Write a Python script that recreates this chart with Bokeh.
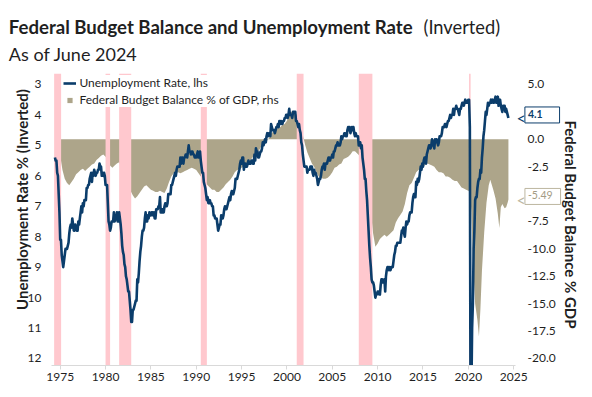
import math
from bokeh.plotting import figure
from bokeh.models import (Range1d, LinearAxis, FixedTicker, NumeralTickFormatter, Label,
                          Legend, LegendItem)
from bokeh.embed import file_html
from bokeh.resources import INLINE

# ---------------- data ----------------
unemp_1970s = [5.4, 5.5, 5.5, 5.9, 6.0, 6.6, 7.2,
               8.1, 8.1, 8.6, 8.8, 9.0, 8.8, 8.6, 8.4, 8.4, 8.4, 8.3, 8.2,
               7.9, 7.7, 7.6, 7.7, 7.4, 7.6, 7.8, 7.8, 7.6, 7.7, 7.8, 7.8,
               7.5, 7.6, 7.4, 7.2, 7.0, 7.2, 6.9, 7.0, 6.8, 6.8, 6.8, 6.4,
               6.4, 6.3, 6.3, 6.1, 6.0, 5.9, 6.2, 5.9, 6.0, 5.8, 5.9, 6.0,
               5.9, 5.9, 5.8, 5.8, 5.6, 5.7, 5.7, 6.0, 5.9, 6.0, 5.9, 6.0]
unemp_1980s = [6.3, 6.3, 6.3, 6.9, 7.5, 7.6, 7.8, 7.7, 7.5, 7.5, 7.5, 7.2,
               7.5, 7.4, 7.4, 7.2, 7.5, 7.5, 7.2, 7.4, 7.6, 7.9, 8.3, 8.5,
               8.6, 8.9, 9.0, 9.3, 9.4, 9.6, 9.8, 9.8, 10.1, 10.4, 10.8, 10.8,
               10.4, 10.4, 10.3, 10.2, 10.1, 10.1, 9.4, 9.5, 9.2, 8.8, 8.5, 8.3,
               8.0, 7.8, 7.8, 7.7, 7.4, 7.2, 7.5, 7.5, 7.3, 7.4, 7.2, 7.3,
               7.3, 7.2, 7.2, 7.3, 7.2, 7.4, 7.4, 7.1, 7.1, 7.1, 7.0, 7.0,
               6.7, 7.2, 7.2, 7.1, 7.2, 7.2, 7.0, 6.9, 7.0, 7.0, 6.9, 6.6,
               6.6, 6.6, 6.6, 6.3, 6.3, 6.2, 6.1, 6.0, 5.9, 6.0, 5.8, 5.7,
               5.7, 5.7, 5.7, 5.4, 5.6, 5.4, 5.4, 5.6, 5.4, 5.4, 5.3, 5.3,
               5.4, 5.2, 5.0, 5.2, 5.2, 5.3, 5.2, 5.2, 5.3, 5.3, 5.4, 5.4]
unemp_1990s = [5.4, 5.3, 5.2, 5.4, 5.4, 5.2, 5.5, 5.7, 5.9, 5.9, 6.2, 6.3,
               6.4, 6.6, 6.8, 6.7, 6.9, 6.9, 6.8, 6.9, 6.9, 7.0, 7.0, 7.3,
               7.3, 7.4, 7.4, 7.4, 7.6, 7.8, 7.7, 7.6, 7.6, 7.3, 7.4, 7.4,
               7.3, 7.1, 7.0, 7.1, 7.1, 7.0, 6.9, 6.8, 6.7, 6.8, 6.6, 6.5,
               6.6, 6.6, 6.5, 6.4, 6.1, 6.1, 6.1, 6.0, 5.9, 5.8, 5.6, 5.5,
               5.6, 5.4, 5.4, 5.8, 5.6, 5.6, 5.7, 5.7, 5.6, 5.5, 5.6, 5.6,
               5.6, 5.5, 5.5, 5.6, 5.6, 5.3, 5.5, 5.1, 5.2, 5.2, 5.4, 5.4,
               5.3, 5.2, 5.2, 5.1, 4.9, 5.0, 4.9, 4.8, 4.9, 4.7, 4.6, 4.7,
               4.6, 4.6, 4.7, 4.3, 4.4, 4.5, 4.5, 4.5, 4.6, 4.5, 4.4, 4.4,
               4.3, 4.4, 4.2, 4.3, 4.2, 4.3, 4.3, 4.2, 4.2, 4.1, 4.1, 4.0]
unemp_2000s = [4.0, 4.1, 4.0, 3.8, 4.0, 4.0, 4.0, 4.1, 3.9, 3.9, 3.9, 3.9,
               4.2, 4.2, 4.3, 4.4, 4.3, 4.5, 4.6, 4.9, 5.0, 5.3, 5.5, 5.7,
               5.7, 5.7, 5.7, 5.9, 5.8, 5.8, 5.8, 5.7, 5.7, 5.7, 5.9, 6.0,
               5.8, 5.9, 5.9, 6.0, 6.1, 6.3, 6.2, 6.1, 6.1, 6.0, 5.8, 5.7,
               5.7, 5.6, 5.8, 5.6, 5.6, 5.6, 5.5, 5.4, 5.4, 5.5, 5.4, 5.4,
               5.3, 5.4, 5.2, 5.2, 5.1, 5.0, 5.0, 4.9, 5.0, 5.0, 5.0, 4.9,
               4.7, 4.8, 4.7, 4.7, 4.6, 4.6, 4.7, 4.7, 4.5, 4.4, 4.5, 4.4,
               4.6, 4.5, 4.4, 4.5, 4.4, 4.6, 4.7, 4.6, 4.7, 4.7, 4.7, 5.0,
               5.0, 4.9, 5.1, 5.0, 5.4, 5.6, 5.8, 6.1, 6.1, 6.5, 6.8, 7.3,
               7.8, 8.3, 8.7, 9.0, 9.4, 9.5, 9.5, 9.6, 9.8, 10.0, 9.9, 9.9]
unemp_2010s = [9.8, 9.8, 9.9, 9.9, 9.6, 9.4, 9.4, 9.5, 9.5, 9.4, 9.8, 9.3,
               9.1, 9.0, 9.0, 9.1, 9.0, 9.1, 9.0, 9.0, 9.0, 8.8, 8.6, 8.5,
               8.3, 8.3, 8.2, 8.2, 8.2, 8.2, 8.2, 8.0, 7.8, 7.8, 7.7, 7.9,
               8.0, 7.7, 7.5, 7.6, 7.5, 7.5, 7.3, 7.2, 7.2, 7.2, 6.9, 6.7,
               6.6, 6.7, 6.7, 6.2, 6.3, 6.1, 6.2, 6.1, 5.9, 5.7, 5.8, 5.6,
               5.7, 5.5, 5.4, 5.4, 5.6, 5.3, 5.2, 5.1, 5.0, 5.0, 5.1, 5.0,
               4.8, 4.9, 5.0, 5.1, 4.8, 4.9, 4.8, 4.9, 5.0, 4.9, 4.7, 4.7,
               4.7, 4.6, 4.4, 4.4, 4.4, 4.3, 4.3, 4.4, 4.3, 4.2, 4.2, 4.1,
               4.0, 4.1, 4.0, 4.0, 3.8, 4.0, 3.8, 3.8, 3.7, 3.8, 3.8, 3.9,
               4.0, 3.8, 3.8, 3.7, 3.6, 3.6, 3.7, 3.6, 3.5, 3.6, 3.6, 3.6]
unemp_2020s = [3.5, 3.5, 4.4, 14.8, 13.2, 11.0, 10.2, 8.4, 7.8, 6.8, 6.7, 6.7,
               6.4, 6.2, 6.1, 6.1, 5.8, 5.9, 5.4, 5.1, 4.7, 4.5, 4.2, 3.9,
               4.0, 3.8, 3.6, 3.7, 3.6, 3.6, 3.5, 3.6, 3.5, 3.6, 3.6, 3.5,
               3.4, 3.6, 3.5, 3.4, 3.7, 3.6, 3.5, 3.7, 3.8, 3.9, 3.7, 3.7,
               3.7, 3.9, 3.8, 3.9, 4.0, 4.1]
unemp_start_year = 1974
unemp_start_month = 6

budget_dates = [1974.42, 1974.75, 1975.0, 1975.25, 1975.5, 1975.75, 1976.0, 1976.25, 1976.5, 1976.75,
                1977.0, 1977.25, 1977.5, 1977.75, 1978.0, 1978.25, 1978.5, 1978.75, 1979.0, 1979.25,
                1979.5, 1979.75, 1980.0, 1980.25, 1980.5, 1980.75, 1981.0, 1981.25, 1981.5, 1981.75,
                1982.0, 1982.25, 1982.5, 1982.75, 1983.0, 1983.25, 1983.5, 1983.75, 1984.0, 1984.25,
                1984.5, 1984.75, 1985.0, 1985.25, 1985.5, 1985.75, 1986.0, 1986.25, 1986.5, 1986.75,
                1987.0, 1987.25, 1987.5, 1987.75, 1988.0, 1988.25, 1988.5, 1988.75, 1989.0, 1989.25,
                1989.5, 1989.75, 1990.0, 1990.25, 1990.5, 1990.75, 1991.0, 1991.25, 1991.5, 1991.75,
                1992.0, 1992.25, 1992.5, 1992.75, 1993.0, 1993.25, 1993.5, 1993.75, 1994.0, 1994.25,
                1994.5, 1994.75, 1995.0, 1995.25, 1995.5, 1995.75, 1996.0, 1996.25, 1996.5, 1996.75,
                1997.0, 1997.25, 1997.5, 1997.75, 1998.0, 1998.25, 1998.5, 1998.75, 1999.0, 1999.25,
                1999.5, 1999.75, 2000.0, 2000.25, 2000.5, 2000.75, 2001.0, 2001.25, 2001.5, 2001.75,
                2002.0, 2002.25, 2002.5, 2002.75, 2003.0, 2003.25, 2003.5, 2003.75, 2004.0, 2004.25,
                2004.5, 2004.75, 2005.0, 2005.25, 2005.5, 2005.75, 2006.0, 2006.25, 2006.5, 2006.75,
                2007.0, 2007.25, 2007.5, 2007.75, 2008.0, 2008.25, 2008.5, 2008.75, 2009.0, 2009.25,
                2009.5, 2009.75, 2010.0, 2010.25, 2010.5, 2010.75, 2011.0, 2011.25, 2011.5, 2011.75,
                2012.0, 2012.25, 2012.5, 2012.75, 2013.0, 2013.25, 2013.5, 2013.75, 2014.0, 2014.25,
                2014.5, 2014.75, 2015.0, 2015.25, 2015.5, 2015.75, 2016.0, 2016.25, 2016.5, 2016.75,
                2017.0, 2017.25, 2017.5, 2017.75, 2018.0, 2018.25, 2018.5, 2018.75, 2019.0, 2019.25,
                2019.5, 2019.75, 2020.0, 2020.17, 2020.33, 2020.5, 2020.75, 2021.0, 2021.17, 2021.33,
                2021.5, 2021.75, 2022.0, 2022.25, 2022.42, 2022.75, 2023.0, 2023.25, 2023.42, 2023.58,
                2023.75, 2024.0, 2024.17, 2024.33, 2024.42]
budget_values = [-0.4, -0.6, -1.5, -2.8, -3.6, -4.0, -4.2, -3.9, -3.6, -3.2,
                 -3.0, -2.8, -2.7, -2.9, -2.7, -2.5, -2.3, -2.2, -1.9, -1.7,
                 -1.5, -1.4, -1.6, -1.9, -2.4, -2.6, -2.4, -2.2, -2.1, -2.5,
                 -3.0, -3.5, -4.1, -4.7, -5.1, -5.4, -5.2, -4.9, -4.6, -4.3,
                 -4.2, -4.4, -4.6, -4.7, -4.8, -4.8, -4.7, -4.8, -4.9, -4.5,
                 -3.9, -3.4, -3.1, -3.1, -3.0, -3.1, -3.0, -2.9, -2.8, -2.7,
                 -2.6, -2.7, -2.8, -3.1, -3.4, -3.6, -3.9, -4.2, -4.4, -4.6,
                 -4.6, -4.8, -4.8, -4.6, -4.4, -4.1, -3.9, -3.7, -3.4, -3.0,
                 -2.8, -2.8, -2.6, -2.5, -2.4, -2.2, -1.9, -1.6, -1.4, -1.2,
                 -0.9, -0.5, -0.3, -0.2, 0.1, 0.5, 0.7, 0.8, 1.0, 1.1,
                 1.3, 1.4, 1.7, 2.2, 2.5, 2.4, 2.3, 2.1, 1.3, 0.4,
                 -0.5, -1.2, -1.7, -2.2, -2.5, -3.0, -3.4, -3.5, -3.6, -3.6,
                 -3.5, -3.3, -3.0, -2.6, -2.5, -2.3, -2.2, -1.8, -1.7, -1.6,
                 -1.4, -1.1, -1.1, -1.3, -1.5, -2.0, -2.7, -3.3, -4.6, -6.6,
                 -8.6, -9.8, -9.5, -9.1, -8.9, -8.7, -8.9, -8.7, -8.5, -8.3,
                 -7.6, -7.2, -6.9, -6.6, -5.9, -4.9, -4.2, -4.0, -3.5, -3.0,
                 -2.8, -2.7, -2.6, -2.3, -2.2, -2.3, -2.4, -2.5, -2.8, -3.0,
                 -3.0, -3.1, -3.4, -3.4, -3.5, -3.7, -3.8, -3.8, -4.1, -4.4,
                 -4.5, -4.6, -4.7, -4.8, -6.5, -11.0, -15.0, -16.5, -18.0, -15.5,
                 -12.0, -8.5, -5.8, -4.2, -3.7, -4.6, -5.4, -6.8, -8.1, -6.2,
                 -5.9, -6.3, -6.2, -5.8, -5.49]

rec_start = [1974.33, 1980.0, 1981.5, 1990.5, 2001.08, 2007.92, 2020.08]
rec_end = [1975.1, 1980.5, 1982.83, 1991.17, 2001.83, 2009.42, 2020.25]

left_ticks = [3, 4, 5, 6, 7, 8, 9, 10, 11, 12]
right_ticks = [5.0, 0.0, -2.5, -7.5, -10.0, -12.5, -15.0, -17.5, -20.0]
year_ticks = [1975, 1980, 1985, 1990, 1995, 2000, 2005, 2010, 2015, 2020, 2025]

# ---------------- styles / layout ----------------
NAVY = "#0B3D6B"
KHAKI = "#ADA58A"
PINK = "#FFC8CE"
TXT = "#1F1F1F"
FONT = "Lato"

BL, BT, BR = 51, 73, 75
FW, FH = 464, 292
X0, X1 = 1974.04, 2025.2
Y_BOT, Y_TOP = 12.23, 2.64
B_BOT, B_TOP = -20.64, 6.0

all_unemp = unemp_1970s + unemp_1980s + unemp_1990s + unemp_2000s + unemp_2010s + unemp_2020s
unemp_x = [unemp_start_year + (unemp_start_month - 1 + i) / 12.0 for i in range(len(all_unemp))]

p = figure(frame_width=FW, frame_height=FH, x_range=Range1d(X0, X1), y_range=Range1d(Y_BOT, Y_TOP),
           output_backend="svg", toolbar_location=None,
           min_border_left=BL, min_border_right=BR, min_border_top=BT, min_border_bottom=30,
           margin=(0, 0, -80, 0),
           outline_line_color=None, background_fill_color="white")
p.extra_y_ranges = {"budget": Range1d(B_BOT, B_TOP)}
p.xgrid.visible = False
p.ygrid.visible = False

p.varea(x=budget_dates, y1=[0.0] * len(budget_values), y2=budget_values,
        y_range_name="budget", fill_color=KHAKI, fill_alpha=1.0)
p.quad(left=rec_start, right=rec_end, bottom=Y_BOT, top=Y_TOP,
       fill_color=PINK, line_color=None, fill_alpha=1.0)
line = p.line(x=unemp_x, y=all_unemp, line_color=NAVY, line_width=2.6, line_join="round")
# legend proxy (square swatch) for the budget area; its single point is NaN so nothing is plotted
sq = p.scatter(x=[float("nan")], y=[float("nan")], marker="square", size=6,
               fill_color=KHAKI, line_color=None)

xa = p.xaxis[0]
xa.ticker = FixedTicker(ticks=year_ticks)
xa.axis_line_color = "#D9D9D9"
xa.major_tick_line_color = "#D9D9D9"
xa.major_tick_out = 4
xa.major_tick_in = 0
xa.minor_tick_line_color = None
xa.major_label_standoff = 3
xa.major_label_text_font = FONT
xa.major_label_text_font_size = "12px"
xa.major_label_text_color = TXT

ya = p.yaxis[0]
ya.ticker = FixedTicker(ticks=left_ticks)
ya.axis_line_color = None
ya.major_tick_line_color = None
ya.minor_tick_line_color = None
ya.major_label_standoff = 4
ya.major_label_text_font = FONT
ya.major_label_text_font_size = "12px"
ya.major_label_text_color = TXT

ra = LinearAxis(y_range_name="budget", ticker=FixedTicker(ticks=right_ticks),
                formatter=NumeralTickFormatter(format="0.0"))
ra.axis_line_color = None
ra.major_tick_line_color = None
ra.minor_tick_line_color = None
ra.major_label_standoff = 6
ra.major_label_text_font = FONT
ra.major_label_text_font_size = "12px"
ra.major_label_text_color = TXT
p.add_layout(ra, "right")

legend = Legend(items=[LegendItem(label="Unemployment Rate, lhs", renderers=[line]),
                       LegendItem(label="Federal Budget Balance % of GDP, rhs", renderers=[sq], index=0)],
                location=(12.4, FH - 34.3), orientation="vertical",
                background_fill_color="white", background_fill_alpha=1.0,
                border_line_color=None, padding=0, margin=0, spacing=2,
                glyph_width=13, glyph_height=14, label_height=14, label_standoff=3,
                label_text_font=FONT, label_text_font_size="12px", label_text_color=TXT)
p.add_layout(legend)


def canvas_label(side, **kw):
    p.add_layout(Label(x_units="canvas", y_units="canvas", text_font=FONT, **kw), side)


# titles
canvas_label("above", x=8.3, y=26.7, text="Federal Budget Balance and Unemployment Rate",
             text_font_style="bold", text_font_size="18.6px", text_color=TXT, text_baseline="alphabetic")
canvas_label("above", x=423, y=26.7, text="(Inverted)", text_font_size="18.3px",
             text_color=TXT, text_baseline="alphabetic")
canvas_label("above", x=8.3, y=53, text="As of June 2024", text_font_size="18px",
             text_color=TXT, text_baseline="alphabetic")
# axis titles
canvas_label("left", x=21.7, y=199, text="Unemployment Rate % (Inverted)", angle=math.pi / 2,
             text_font_style="bold", text_font_size="15px", text_color=TXT,
             text_align="center", text_baseline="middle")
canvas_label("right", x=570.7, y=224, text="Federal Budget Balance % GDP", angle=-math.pi / 2,
             text_font_style="bold", text_font_size="15px", text_color=TXT,
             text_align="center", text_baseline="middle")

# callouts for the latest values
ppx = FW / (X1 - X0)
ppy = FH / (Y_BOT - Y_TOP)


def to_left(b):
    return Y_TOP + (B_TOP - b) * (Y_BOT - Y_TOP) / (B_TOP - B_BOT)


def callout(xd, ud, text, line_color, text_color, bold, pad_right):
    sx = BL + (xd - X0) * ppx
    sy = BT + (ud - Y_TOP) * ppy
    canvas_label("below", x=sx + 16.5, y=sy - 3, text=text, text_font_size="10.5px",
                 text_font_style="bold" if bold else "normal", text_color=text_color,
                 text_align="left", text_baseline="middle",
                 border_line_color=line_color, border_line_width=1,
                 background_fill_color="white", padding=(3, pad_right, 3, 5))
    canvas_label("below", x=sx + 8, y=sy, text="<", text_font_size="16px",
                 text_color=line_color, text_align="left", text_baseline="middle")


callout(unemp_x[-1], all_unemp[-1], f"{all_unemp[-1]:.1f}", NAVY, NAVY, True, 17)
callout(budget_dates[-1], to_left(budget_values[-1]), f"{budget_values[-1]:.2f}",
        "#BDB6A0", "#A39B84", False, 8)

open("out.html", "w").write(file_html(p, INLINE))
